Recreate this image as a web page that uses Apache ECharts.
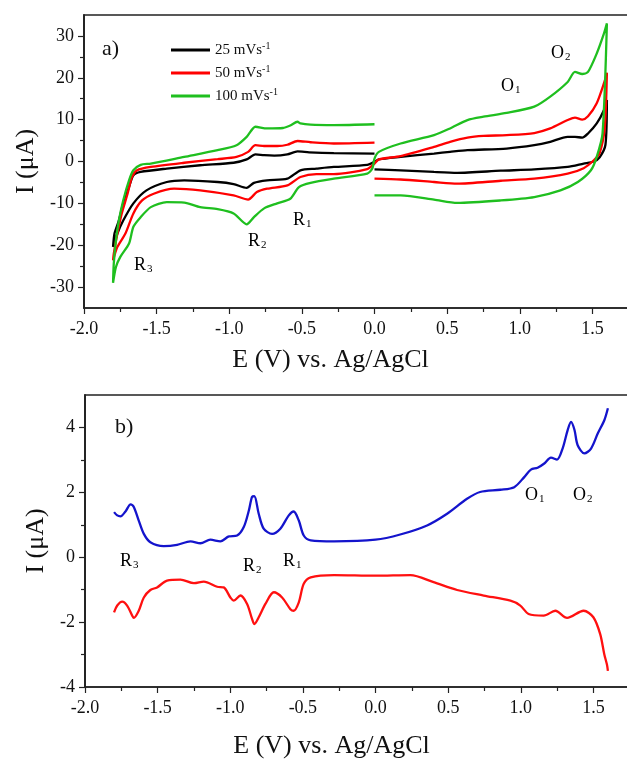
<!DOCTYPE html>
<html>
<head>
<meta charset="utf-8">
<script src="https://cdn.jsdelivr.net/npm/echarts@6/dist/echarts.min.js"></script>
<style>
  html, body { margin: 0; padding: 0; background: #fff; }
  #chart { width: 627px; height: 759px; }
</style>
</head>
<body>
<div id="chart"></div>
<script>
// scan rates shown in the legend of panel a)
const scanRates = [25, 50, 100]
const cvColors = ['#000000', '#ff0000', '#1fbf1f']

// panel a) cyclic voltammograms, [E (V), I (uA)] along the scan
const cv25 = [
  [0.00, 1.9], [-0.28, 2.0], [-0.45, 2.2], [-0.53, 2.4], [-0.60, 1.7], [-0.69, 1.4], [-0.76, 1.5],
  [-0.82, 1.7], [-0.88, 0.5], [-0.97, -0.3], [-1.20, -0.9], [-1.43, -1.7], [-1.61, -2.5], [-1.66, -3.3],
  [-1.69, -6.1], [-1.73, -10.0], [-1.76, -14.1], [-1.79, -17.2], [-1.80, -20.4],
  [-1.77, -17.2], [-1.73, -14.1], [-1.66, -10.0], [-1.57, -6.9], [-1.43, -4.9], [-1.31, -4.5],
  [-1.08, -4.9], [-0.97, -5.4], [-0.88, -6.3], [-0.83, -5.1], [-0.74, -4.5], [-0.60, -4.1],
  [-0.51, -2.1], [-0.40, -1.7], [-0.28, -1.3], [-0.05, -0.8], [0.00, -0.1],
  [0.03, 0.5], [0.18, 1.1], [0.41, 1.9], [0.52, 2.3], [0.64, 2.7], [0.91, 3.1], [1.10, 3.9],
  [1.21, 4.7], [1.33, 5.9], [1.38, 5.9], [1.43, 5.7], [1.47, 6.7], [1.53, 9.1], [1.58, 12.3], [1.60, 14.7],
  [1.59, 4.0], [1.55, 1.0], [1.51, 0.0], [1.44, -0.5], [1.33, -1.3], [1.10, -1.9], [0.87, -2.2],
  [0.57, -2.7], [0.41, -2.5], [0.18, -2.1], [0.00, -1.9]
]
const cv50 = [
  [0.00, 4.5], [-0.28, 4.3], [-0.44, 4.6], [-0.53, 4.9], [-0.60, 4.0], [-0.67, 3.7], [-0.76, 3.7],
  [-0.82, 3.9], [-0.87, 2.3], [-0.95, 1.1], [-1.08, 0.55], [-1.31, -0.3], [-1.54, -1.3], [-1.635, -2.1],
  [-1.67, -3.7], [-1.70, -7.7], [-1.74, -12.4], [-1.77, -17.2], [-1.795, -22.0], [-1.80, -23.6],
  [-1.77, -20.4], [-1.715, -17.2], [-1.66, -12.4], [-1.60, -9.3], [-1.52, -7.7], [-1.38, -6.5],
  [-1.20, -6.9], [-0.97, -8.1], [-0.87, -9.1], [-0.81, -7.3], [-0.74, -6.5], [-0.60, -5.7],
  [-0.51, -3.7], [-0.40, -3.0], [-0.28, -3.0], [-0.05, -1.8], [0.00, -0.5],
  [0.03, 0.5], [0.18, 1.3], [0.41, 3.5], [0.52, 4.7], [0.64, 5.7], [0.75, 6.1], [0.91, 6.3],
  [1.10, 6.8], [1.21, 7.9], [1.33, 9.9], [1.38, 10.5], [1.43, 10.0], [1.47, 10.8], [1.53, 13.9],
  [1.58, 18.7], [1.60, 21.2],
  [1.585, 8.0], [1.55, 2.0], [1.51, 0.3], [1.44, -1.6], [1.33, -2.9], [1.10, -4.1], [0.87, -4.6],
  [0.57, -5.3], [0.41, -4.9], [0.18, -4.3], [0.00, -4.1]
]
const cv100 = [
  [0.00, 8.9], [-0.28, 8.7], [-0.44, 8.8], [-0.51, 9.1], [-0.53, 9.5], [-0.58, 8.6], [-0.63, 8.0],
  [-0.74, 7.9], [-0.82, 8.3], [-0.88, 5.9], [-0.95, 3.9], [-1.08, 2.7], [-1.31, 1.1], [-1.54, -0.5],
  [-1.61, -0.8], [-1.66, -2.1], [-1.69, -4.5], [-1.73, -9.3], [-1.76, -14.1], [-1.78, -18.8],
  [-1.795, -24.4], [-1.80, -29.0],
  [-1.78, -25.2], [-1.75, -22.8], [-1.69, -19.6], [-1.66, -15.6], [-1.61, -13.3], [-1.54, -10.9],
  [-1.43, -9.7], [-1.31, -9.8], [-1.20, -10.9], [-1.08, -11.4], [-0.97, -12.4], [-0.88, -15.0],
  [-0.83, -13.3], [-0.76, -11.2], [-0.67, -10.0], [-0.58, -8.9], [-0.52, -6.1], [-0.44, -5.1],
  [-0.28, -4.1], [-0.05, -2.9], [-0.015, -1.7], [0.00, 0.7],
  [0.03, 2.3], [0.18, 4.3], [0.41, 6.3], [0.52, 7.9], [0.64, 9.9], [0.75, 10.7], [0.91, 11.6],
  [1.10, 13.1], [1.21, 15.5], [1.33, 19.0], [1.38, 21.4], [1.43, 20.9], [1.47, 21.4], [1.53, 25.8],
  [1.58, 30.6], [1.60, 33.0],
  [1.57, 6.7], [1.53, 1.1], [1.49, -2.1], [1.40, -4.9], [1.28, -6.9], [1.10, -8.5], [0.87, -9.3],
  [0.57, -9.9], [0.41, -9.1], [0.18, -8.1], [0.00, -8.1]
]
const cvData = [cv25, cv50, cv100]

// panel b) differential pulse voltammograms
const dpvForward = [
  [-1.80, 1.39], [-1.778, 1.29], [-1.756, 1.26], [-1.72, 1.42], [-1.686, 1.63], [-1.664, 1.55],
  [-1.63, 1.13], [-1.595, 0.72], [-1.55, 0.46], [-1.458, 0.34], [-1.366, 0.38], [-1.274, 0.49],
  [-1.205, 0.43], [-1.137, 0.54], [-1.068, 0.49], [-1.01, 0.64], [-0.953, 0.67], [-0.907, 0.93],
  [-0.872, 1.44], [-0.85, 1.86], [-0.834, 1.88], [-0.804, 1.34], [-0.77, 0.88], [-0.712, 0.72],
  [-0.655, 0.88], [-0.597, 1.29], [-0.563, 1.41], [-0.528, 1.13], [-0.494, 0.67], [-0.446, 0.52],
  [-0.285, 0.49], [0.0, 0.54], [0.17, 0.70], [0.355, 0.98], [0.493, 1.34], [0.63, 1.80], [0.72, 2.01],
  [0.86, 2.08], [0.955, 2.16], [1.024, 2.47], [1.07, 2.70], [1.116, 2.76], [1.162, 2.89], [1.208, 3.07],
  [1.25, 3.01], [1.288, 3.35], [1.323, 3.92], [1.346, 4.17], [1.37, 3.92], [1.392, 3.45], [1.438, 3.20],
  [1.484, 3.35], [1.53, 3.81], [1.576, 4.23], [1.60, 4.59]
]
const dpvReverse = [
  [-1.80, -1.70], [-1.778, -1.49], [-1.744, -1.37], [-1.71, -1.49], [-1.675, -1.80], [-1.664, -1.87],
  [-1.63, -1.65], [-1.595, -1.24], [-1.55, -1.01], [-1.504, -0.93], [-1.435, -0.72], [-1.343, -0.69],
  [-1.25, -0.80], [-1.182, -0.75], [-1.09, -0.91], [-1.045, -0.93], [-0.999, -1.24], [-0.976, -1.34],
  [-0.93, -1.18], [-0.884, -1.44], [-0.85, -1.90], [-0.834, -2.06], [-0.804, -1.85], [-0.758, -1.44],
  [-0.70, -1.08], [-0.643, -1.24], [-0.586, -1.60], [-0.563, -1.65], [-0.528, -1.39], [-0.494, -0.82],
  [-0.446, -0.62], [-0.285, -0.55], [0.0, -0.57], [0.24, -0.55], [0.40, -0.77], [0.562, -1.01],
  [0.745, -1.18], [0.929, -1.34], [0.997, -1.49], [1.054, -1.75], [1.158, -1.80], [1.238, -1.65],
  [1.319, -1.87], [1.433, -1.65], [1.50, -1.85], [1.547, -2.37], [1.575, -2.99], [1.593, -3.3], [1.60, -3.5]
]

// tick values
const yMajorA = [-30, -20, -10, 0, 10, 20, 30]
const yMinorA = [-25, -15, -5, 5, 15, 25]
const yMajorB = [-4, -2, 0, 2, 4]
const yMinorB = [-3, -1, 1, 3]

const font = 'Liberation Serif'
const axisColor = '#222'

function xAxisFor (gridIndex, gap) {
  return {
    type: 'value',
    gridIndex: gridIndex,
    min: -2,
    max: 2,
    interval: 0.5,
    name: 'E (V) vs. Ag/AgCl',
    nameLocation: 'middle',
    nameGap: gap,
    nameTextStyle: { fontFamily: font, fontSize: 26, color: '#111', padding: [0, 88, 0, 0] },
    axisLine: { onZero: false, lineStyle: { color: axisColor, width: 1.5 } },
    axisTick: { inside: false, length: 6, lineStyle: { color: axisColor, width: 1.2 } },
    minorTick: { show: true, splitNumber: 2, length: 4, lineStyle: { color: axisColor, width: 1.2 } },
    splitLine: { show: false },
    axisLabel: {
      fontFamily: font, fontSize: 18, color: '#111', margin: 12,
      formatter: v => v.toFixed(1)
    }
  }
}

function yAxesFor (gridIndex, min, max, step, major, minor, gap) {
  return [
    {
      type: 'value',
      gridIndex: gridIndex,
      position: 'left',
      min: min,
      max: max,
      interval: step,
      name: 'I (μA)',
      nameLocation: 'middle',
      nameGap: gap,
      nameTextStyle: { fontFamily: font, fontSize: 26, color: '#111' },
      axisLine: { onZero: false, lineStyle: { color: axisColor, width: 1.5 } },
      axisTick: { customValues: major, length: 6, lineStyle: { color: axisColor, width: 1.2 } },
      splitLine: { show: false },
      axisLabel: { customValues: major, fontFamily: font, fontSize: 18, color: '#111', margin: 10 }
    },
    {
      // second axis on the same side, only carries the short minor ticks
      type: 'value',
      gridIndex: gridIndex,
      position: 'left',
      offset: 0,
      min: min,
      max: max,
      interval: step,
      axisLine: { show: true, onZero: false, lineStyle: { color: axisColor, width: 1.5 } },
      axisTick: { show: true, customValues: minor, length: 4, lineStyle: { color: axisColor, width: 1.2 } },
      splitLine: { show: false },
      axisLabel: { show: false }
    }
  ]
}

const sup = { fontFamily: font, fontSize: 10, color: '#111', verticalAlign: 'top', padding: [0, 0, 8, 0] }
const sub = { fontFamily: font, fontSize: 11, color: '#111', padding: [9, 0, 0, 1] }
const base = { fontFamily: font, fontSize: 18, color: '#111' }

function peakLabel (letter, idx, x, y) {
  return {
    type: 'text',
    left: x,
    top: y,
    style: {
      text: '{b|' + letter + '}{s|' + idx + '}',
      rich: { b: base, s: sub }
    }
  }
}

const series = []
scanRates.forEach((r, i) => {
  series.push({
    name: r + ' mVs-1',
    type: 'line',
    xAxisIndex: 0,
    yAxisIndex: 0,
    data: cvData[i],
    showSymbol: false,
    smooth: 0.25,
    color: cvColors[i],
    lineStyle: { width: 2.3 }
  })
})
series.push({
  name: 'forward',
  type: 'line',
  xAxisIndex: 1,
  yAxisIndex: 2,
  data: dpvForward,
  showSymbol: false,
  smooth: 0.3,
  color: '#1414cc',
  lineStyle: { width: 2.3 }
})
series.push({
  name: 'reverse',
  type: 'line',
  xAxisIndex: 1,
  yAxisIndex: 2,
  data: dpvReverse,
  showSymbol: false,
  smooth: 0.3,
  color: '#ff1010',
  lineStyle: { width: 2.3 }
})

const option = {
  backgroundColor: '#ffffff',
  animation: false,
  grid: [
    { left: 84, top: 15, width: 581, height: 293, outerBoundsMode: 'none', show: true, borderColor: axisColor, borderWidth: 1.5 },
    { left: 85, top: 395, width: 581, height: 292, outerBoundsMode: 'none', show: true, borderColor: axisColor, borderWidth: 1.5 }
  ],
  xAxis: [xAxisFor(0, 39), xAxisFor(1, 46)],
  yAxis: yAxesFor(0, -35, 35, 5, yMajorA, yMinorA, 44).concat(yAxesFor(1, -4, 5, 1, yMajorB, yMinorB, 36)),
  legend: {
    data: scanRates.map(r => r + ' mVs-1'),
    orient: 'vertical',
    left: 166,
    top: 36,
    icon: 'rect',
    itemWidth: 39,
    itemHeight: 3,
    itemGap: 5,
    textStyle: {
      fontFamily: font, fontSize: 15, color: '#111', lineHeight: 18,
      rich: { n: { fontFamily: font, fontSize: 15, color: '#111' }, sup: sup }
    },
    formatter: name => '{n|' + name.replace('-1', '') + '}{sup|-1}'
  },
  graphic: [
    { type: 'text', left: 102, top: 38, style: { text: 'a)', font: '22px "Liberation Serif"', fill: '#111' } },
    { type: 'text', left: 115, top: 416, style: { text: 'b)', font: '22px "Liberation Serif"', fill: '#111' } },
    peakLabel('R', '3', 134, 256),
    peakLabel('R', '2', 248, 232),
    peakLabel('R', '1', 293, 211),
    peakLabel('O', '1', 501, 77),
    peakLabel('O', '2', 551, 44),
    peakLabel('R', '3', 120, 552),
    peakLabel('R', '2', 243, 557),
    peakLabel('R', '1', 283, 552),
    peakLabel('O', '1', 525, 486),
    peakLabel('O', '2', 573, 486)
  ],
  series: series
}

const chart = echarts.init(document.getElementById('chart'))
chart.setOption(option)
</script>
</body>
</html>
